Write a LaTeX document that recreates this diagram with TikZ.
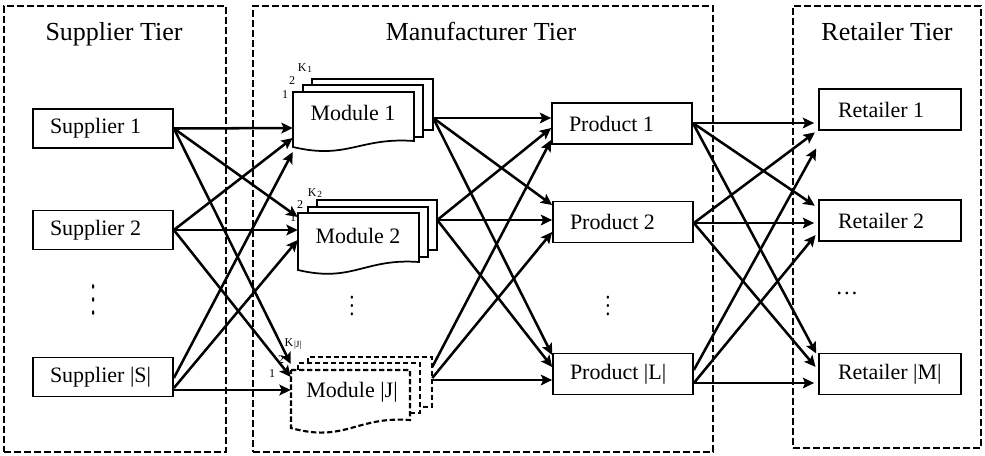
\documentclass[tikz,border=0pt]{standalone}
\usepackage{fontspec}
\usepackage{graphicx}
\setmainfont{Liberation Serif}
\usetikzlibrary{arrows.meta,fit}
\newcommand{\boxtext}[2]{\makebox[#1][l]{#2}}
\newcommand{\ktag}[1]{K\kern0.6pt\raisebox{-0.3ex}{\fontsize{7}{8}\selectfont #1}}
\begin{document}
\begin{tikzpicture}[x=0.75pt,y=-0.75pt,
  tier/.style={draw, line width=1.8pt, dash pattern=on 5pt off 2.5pt, inner sep=0pt},
  title/.style={anchor=base, inner sep=0pt, font=\fontsize{19.5}{23}\selectfont},
  nbox/.style={draw, line width=1.3pt, fill=white, inner ysep=0pt, inner xsep=12.75pt, minimum height=#1, font=\fontsize{16.5}{19}\selectfont},
  rbox/.style={nbox=30.75pt, inner xsep=14.25pt},
  doc/.style={draw, line width=1.3pt, fill=white},
  docJ/.style={doc, line width=1.6pt, dash pattern=on 4pt off 2pt},
  back/.style={draw, line width=1.3pt},
  backJ/.style={back, line width=1.6pt, dash pattern=on 4pt off 2pt},
  mtext/.style={font=\fontsize{16.5}{19}\selectfont, inner sep=0pt},
  tag/.style={font=\fontsize{9}{10}\selectfont, inner sep=0pt},
  flow/.style={line width=1.9pt, -{Stealth[length=8.5pt,width=8pt,inset=1.8pt]}},
  flowr/.style={flow, shorten >=3pt},
  vdotn/.style={rotate=90, font=\fontsize{15}{16}\selectfont, inner sep=0pt},
  hdotn/.style={font=\fontsize{17}{19}\selectfont, inner sep=0pt}
]
\useasboundingbox (0,0) rectangle (985,455);

% tiers
\node[tier, fit={(4,6) (226,452)}] (tS) {};
\node[tier, fit={(253,6) (713,452)}] (tM) {};
\node[tier, fit={(793,6) (981,448)}] (tR) {};
\node[title] (tSt) at (114,40) {Supplier Tier};
\node[title] (tMt) at (481,40) {Manufacturer Tier};
\node[title] (tRt) at (887,40) {Retailer Tier};

% suppliers
\node[nbox=29.25pt] (s1) at (103,128.5) {\boxtext{79.5pt}{Supplier 1}};
\node[nbox=29.25pt] (s2) at (103,230) {\boxtext{79.5pt}{Supplier 2}};
\node[nbox=29.25pt] (ss) at (103,377) {\boxtext{79.5pt}{Supplier |S|}};
\node[vdotn] (sd) at (94,300) {\scalebox{1.95}[1]{…}};

% products
\node[nbox=30.75pt] (p1) at (622,123.5) {\boxtext{79.5pt}{Product 1}};
\node[nbox=30.75pt] (p2) at (623,222) {\boxtext{79.5pt}{Product 2}};
\node[nbox=30.75pt] (pl) at (623,374) {\boxtext{79.5pt}{Product |L|}};
\node[vdotn] (pd) at (608,306) {\scalebox{1.25}[1]{…}};

% retailers
\node[rbox] (r1) at (890,109.5) {\boxtext{78pt}{Retailer 1}};
\node[rbox] (r2) at (890,220.5) {\boxtext{78pt}{Retailer 2}};
\node[rbox] (rm) at (890,374) {\boxtext{78pt}{Retailer |M|}};
\node[hdotn] (rd) at (847,293) {…};

% module 1
\path[back] (312,85) -- (312,79) -- (433,79) -- (433,130) -- (423,130);
\path[back] (303,92) -- (303,85) -- (423,85) -- (423,137) -- (414,137);
\path[doc] (293,92) -- (414,92) -- (414,141) .. controls (359.5,137) and (347.5,160) .. (293,147) -- cycle;
\node[fit={(293,79) (433,148)}, inner sep=0pt] (m1) {};
\node[mtext] (m1t) at (353,113) {Module 1};
\node[tag] (m1a) at (285,95) {1};
\node[tag] (m1b) at (292,81) {2};
\node[tag] (m1k) at (305,68) {\ktag{1}};

% module 2
\path[back] (317,207) -- (317,200) -- (437,200) -- (437,250) -- (428,250);
\path[back] (308,213) -- (308,207) -- (428,207) -- (428,257) -- (419,257);
\path[doc] (298,213) -- (419,213) -- (419,262) .. controls (364.5,258) and (352.5,283) .. (298,270) -- cycle;
\node[fit={(298,200) (437,270)}, inner sep=0pt] (m2) {};
\node[mtext] (m2t) at (358,236) {Module 2};
\node[tag] (m2a) at (293,218) {1};
\node[tag] (m2b) at (300,205) {2};
\node[tag] (m2k) at (315,193) {\ktag{2}};

% module |J|
\path[backJ] (308,363) -- (308,357) -- (432,357) -- (432,407) -- (420,407);
\path[backJ] (298,370) -- (298,363) -- (420,363) -- (420,413) -- (410,413);
\path[docJ] (291,370) -- (410,370) -- (410,420) .. controls (356.5,416) and (344.5,443) .. (291,428) -- cycle;
\node[fit={(291,357) (432,430)}, inner sep=0pt] (mJ) {};
\node[mtext] (mJt) at (352,392) {Module |J|};
\node[tag] (mJa) at (272,374) {1};
\node[tag] (mJb) at (281,360) {2};
\node[tag] (mJk) at (293,344) {\ktag{|J|}};
\node[vdotn] (md) at (352,306) {\scalebox{1.25}[1]{…}};

% suppliers -> modules
\draw[flow] (s1.east) -- (m1.west |- 0,128);
\draw[flow] (s1.east) -- (m2.west |- 0,217);
\draw[flow] (s1.east) -- (mJ.west |- 0,364);
\draw[flow] (s2.east) -- (m1.west |- 0,138);
\draw[flow] (s2.east) -- (m2.west |- 0,230);
\draw[flow] (s2.east) -- (mJ.west |- 0,377);
\draw[flow] (ss.east |- 0,378) -- (m1.west |- 0,152);
\draw[flow] (ss.east |- 0,388) -- (m2.west |- 0,240);
\draw[flow] (ss.east |- 0,390) -- (mJ.west |- 0,390);

% modules -> products
\draw[flow] (m1.east |- 0,118) -- (p1.west |- 0,118);
\draw[flow] (m1.east |- 0,118) -- (p2.west |- 0,205);
\draw[flow] (m1.east |- 0,118) -- (pl.west |- 0,355);
\draw[flow] (m2.east |- 0,220) -- (p1.west |- 0,128);
\draw[flow] (m2.east |- 0,220) -- (p2.west |- 0,220);
\draw[flow] (m2.east |- 0,220) -- (pl.west |- 0,367);
\draw[flow] (mJ.east |- 0,367) -- (p1.west |- 0,140);
\draw[flow] (mJ.east |- 0,378) -- (p2.west |- 0,232);
\draw[flow] (mJ.east |- 0,380) -- (pl.west |- 0,380);

% products -> retailers
\draw[flowr] (p1.east |- 0,123) -- (r1.west |- 0,123);
\draw[flowr] (p1.east |- 0,123) -- (r2.west |- 0,208);
\draw[flowr] (p1.east |- 0,123) -- (rm.west |- 0,357);
\draw[flowr] (p2.east |- 0,223) -- (r1.west |- 0,130);
\draw[flowr] (p2.east |- 0,223) -- (r2.west |- 0,223);
\draw[flowr] (p2.east |- 0,223) -- (rm.west |- 0,370);
\draw[flowr] (pl.east |- 0,370) -- (r1.west |- 0,145);
\draw[flowr] (pl.east |- 0,383) -- (r2.west |- 0,232);
\draw[flowr] (pl.east |- 0,383) -- (rm.west |- 0,383);
\end{tikzpicture}
\end{document}
